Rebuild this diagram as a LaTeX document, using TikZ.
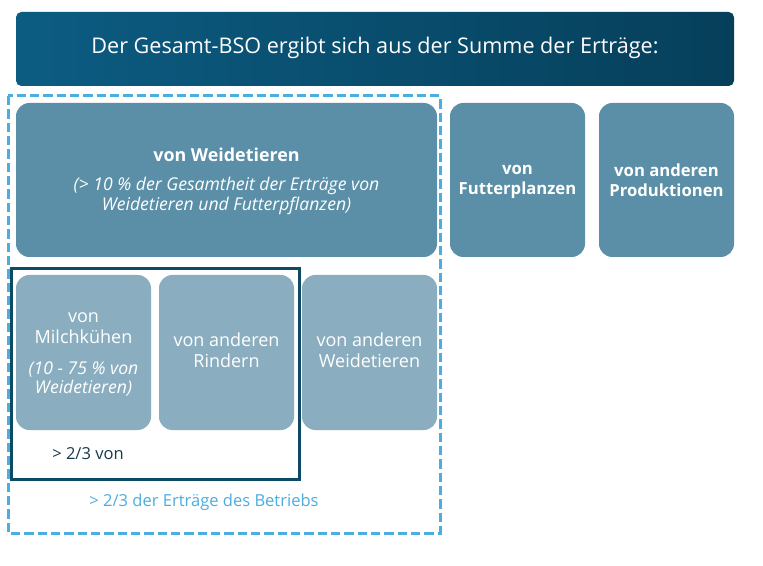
\documentclass[tikz,border=0pt]{standalone}
\usepackage{fontspec}
\setmainfont{Open Sans}
\usetikzlibrary{shadings}
\definecolor{hdrL}{HTML}{0C5C82}
\definecolor{hdrR}{HTML}{063F5A}
\definecolor{boxA}{HTML}{5B8FA8}
\definecolor{boxB}{HTML}{8AAEC0}
\definecolor{dashc}{HTML}{4AAEE0}
\definecolor{darkc}{HTML}{0D4A63}
\definecolor{txtd}{HTML}{1A3A4A}
\tikzset{
  boxa/.style={fill=boxA, rounded corners=10pt, draw=none},
  boxb/.style={fill=boxB, rounded corners=10pt, draw=none},
  wtxt/.style={text=white, align=center, font=\fontsize{13.5}{16}\selectfont},
  btxt/.style={text=white, align=center, font=\fontsize{12.5}{15}\bfseries\selectfont},
  itxt/.style={text=white, align=center, font=\fontsize{13.2}{14.5}\itshape\selectfont},
}
\begin{document}
\begin{tikzpicture}[x=0.75pt,y=-0.75pt]
\useasboundingbox (0,0) rectangle (763,566);
\fill[white] (0,0) rectangle (763,566);
% header
\shade[left color=hdrL, right color=hdrR, rounded corners=4pt] (16,12) rectangle (734,86);
\node[text=white, font=\fontsize{16.2}{19}\selectfont] (hdr) at (375,48) {Der Gesamt-BSO ergibt sich aus der Summe der Erträge:};
% dashed region
\draw[dashc, line width=2.25pt, dash pattern=on 7pt off 3pt] (8,96) rectangle (440,533);
% top row
\fill[boxa] (16,103) rectangle (437,257);
\node[btxt, font=\fontsize{13.4}{15}\bfseries\selectfont] (wt) at (226.5,155) {von Weidetieren};
\node[itxt] (wtsub) at (226.5,196) {(> 10 \% der Gesamtheit der Erträge von\\Weidetieren und Futterpflanzen)};
\fill[boxa] (450,103) rectangle (585,257);
\node[btxt] (fp) at (517.5,182) {von\\Futterplanzen};
\fill[boxa] (599,103) rectangle (734,257);
\node[btxt] (ap) at (666.5,180) {von anderen\\Produktionen};
% dark frame
\draw[darkc, line width=2.25pt] (11,269) rectangle (299,479);
% second row
\fill[boxb] (16,275) rectangle (151,430);
\node[wtxt] (mk) at (83.5,328) {von\\Milchkühen};
\node[itxt] (mksub) at (83.5,379) {(10 - 75 \% von\\Weidetieren)};
\fill[boxb] (159,275) rectangle (294,430);
\node[wtxt] (ar) at (226.5,350) {von anderen\\Rindern};
\fill[boxb] (302,275) rectangle (437,430);
\node[wtxt] (aw) at (369.5,350) {von anderen\\Weidetieren};
% labels
\node[text=txtd, font=\fontsize{12.4}{14}\selectfont] (l1) at (88,454) {> 2/3 von};
\node[text=dashc, font=\fontsize{12.4}{14}\selectfont] (l2) at (204,502) {> 2/3 der Erträge des Betriebs};
\end{tikzpicture}
\end{document}
